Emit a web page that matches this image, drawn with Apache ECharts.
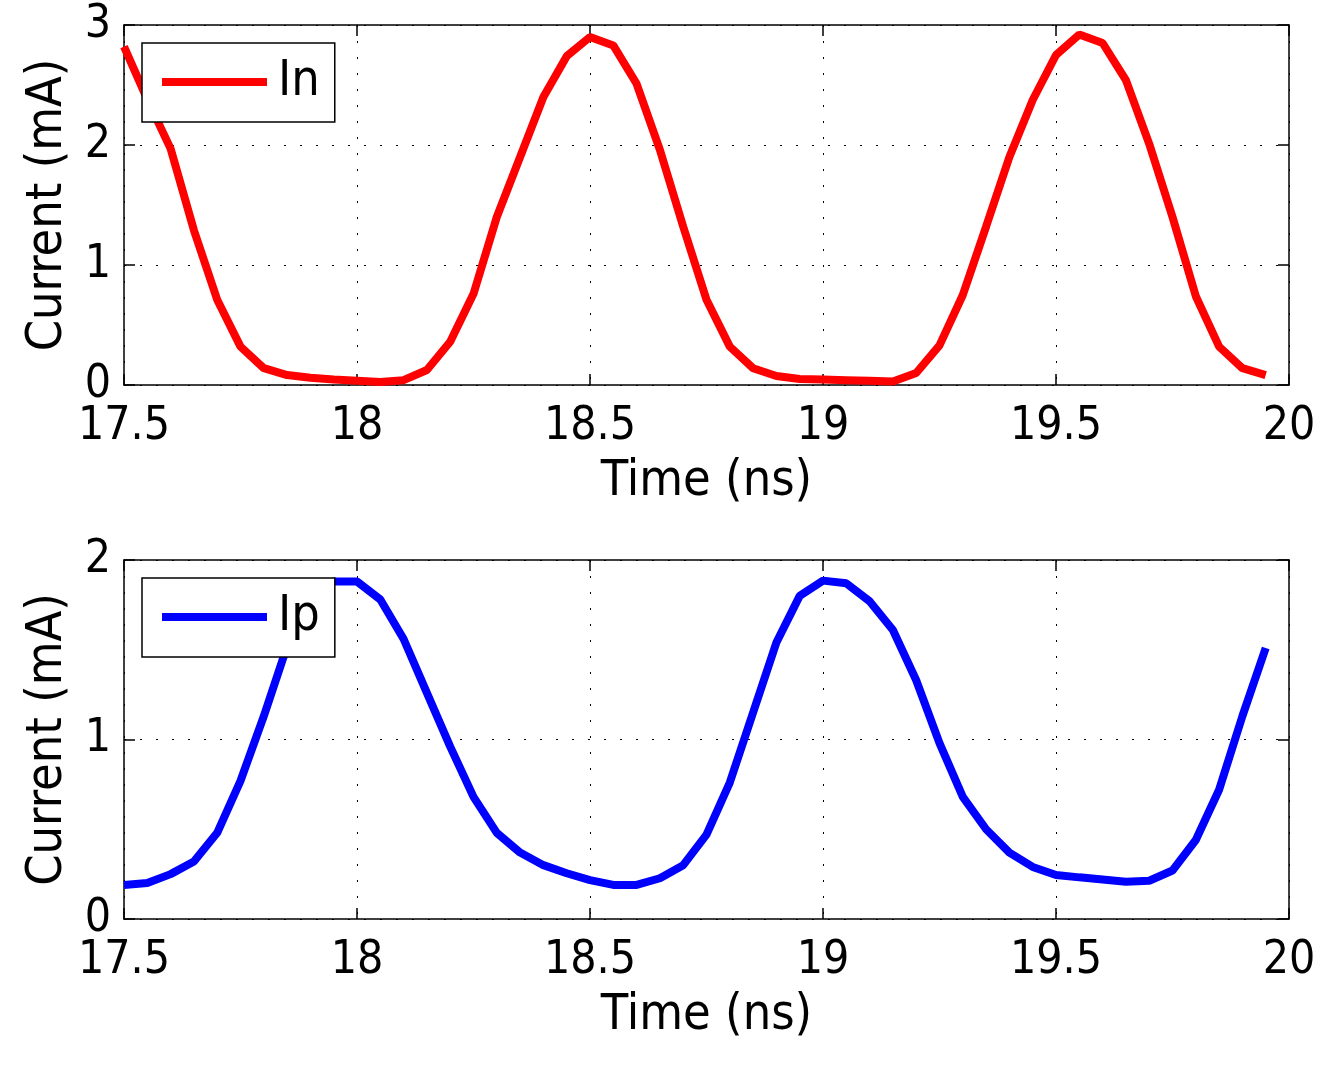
<!DOCTYPE html>
<html>
<head>
<meta charset="utf-8">
<script src="https://cdn.jsdelivr.net/npm/echarts@6/dist/echarts.min.js"></script>
<style>
  html, body { margin: 0; padding: 0; background: #fff; }
  #chart { width: 1323px; height: 1067px; }
</style>
</head>
<body>
<div id="chart"></div>
<script>
// time samples (ns)
const times = [17.5, 17.55, 17.6, 17.65, 17.7, 17.75, 17.8, 17.85, 17.9, 17.95,
  18, 18.05, 18.1, 18.15, 18.2, 18.25, 18.3, 18.35, 18.4, 18.45,
  18.5, 18.55, 18.6, 18.65, 18.7, 18.75, 18.8, 18.85, 18.9, 18.95,
  19, 19.05, 19.1, 19.15, 19.2, 19.25, 19.3, 19.35, 19.4, 19.45,
  19.5, 19.55, 19.6, 19.65, 19.7, 19.75, 19.8, 19.85, 19.9, 19.95];

// In current (mA)
const inValues = [2.82, 2.38, 1.97, 1.29, 0.71, 0.32, 0.14, 0.083, 0.06, 0.045,
  0.035, 0.025, 0.04, 0.125, 0.36, 0.76, 1.40, 1.90, 2.40, 2.74,
  2.90, 2.83, 2.51, 1.96, 1.32, 0.71, 0.32, 0.14, 0.075, 0.05,
  0.045, 0.04, 0.035, 0.03, 0.10, 0.33, 0.75, 1.32, 1.90, 2.375,
  2.75, 2.92, 2.85, 2.54, 2.01, 1.40, 0.74, 0.32, 0.14, 0.083];

// Ip current (mA)
const ipValues = [0.19, 0.20, 0.25, 0.32, 0.48, 0.77, 1.13, 1.52, 1.85, 1.88,
  1.88, 1.78, 1.56, 1.26, 0.96, 0.68, 0.48, 0.37, 0.30, 0.255,
  0.217, 0.19, 0.19, 0.227, 0.30, 0.47, 0.76, 1.15, 1.54, 1.80,
  1.885, 1.87, 1.77, 1.61, 1.33, 0.98, 0.68, 0.50, 0.37, 0.29,
  0.245, 0.232, 0.22, 0.208, 0.213, 0.27, 0.44, 0.72, 1.13, 1.51];

const xRange = { min: 17.5, max: 20, interval: 0.5 };
const yRangeTop = { min: 0, max: 3, interval: 1 };
const yRangeBottom = { min: 0, max: 2, interval: 1 };

const FONT = "'DejaVu Sans Condensed', 'DejaVu Sans', sans-serif";

const chart = echarts.init(document.getElementById('chart'), null, { renderer: 'canvas' });

// main axis (with labels, grid lines)
function mainX(gridIndex) {
  return {
    type: 'value', gridIndex: gridIndex, position: 'bottom',
    min: xRange.min, max: xRange.max, interval: xRange.interval,
    name: 'Time (ns)', nameLocation: 'middle', nameGap: 72,
    nameTextStyle: { fontFamily: FONT, fontSize: 50, color: '#000' },
    axisLine: { show: true, onZero: false, lineStyle: { color: '#000', width: 1.5 } },
    axisTick: { show: true, inside: true, length: 11, lineStyle: { color: '#000', width: 1.5 } },
    axisLabel: { fontFamily: FONT, fontSize: 46, color: '#000', margin: 19,
      showMinLabel: true, showMaxLabel: true },
    splitLine: { show: true, lineStyle: { color: '#000', width: 1, type: [2, 14] } }
  };
}
function mainY(gridIndex, r) {
  return {
    type: 'value', gridIndex: gridIndex, position: 'left',
    min: r.min, max: r.max, interval: r.interval,
    name: 'Current (mA)', nameLocation: 'middle', nameGap: 51,
    nameTextStyle: { fontFamily: FONT, fontSize: 50, color: '#000' },
    axisLine: { show: true, onZero: false, lineStyle: { color: '#000', width: 1.5 } },
    axisTick: { show: true, inside: true, length: 11, lineStyle: { color: '#000', width: 1.5 } },
    axisLabel: { fontFamily: FONT, fontSize: 46, color: '#000', margin: 13,
      showMinLabel: true, showMaxLabel: true },
    splitLine: { show: true, lineStyle: { color: '#000', width: 1, type: [2, 14] } }
  };
}
// mirror axes for the box (top / right), ticks only
function boxX(gridIndex) {
  return {
    type: 'value', gridIndex: gridIndex, position: 'top',
    min: xRange.min, max: xRange.max, interval: xRange.interval,
    axisLine: { show: true, onZero: false, lineStyle: { color: '#000', width: 1.5 } },
    axisTick: { show: true, inside: true, length: 11, lineStyle: { color: '#000', width: 1.5 } },
    axisLabel: { show: false },
    splitLine: { show: false }
  };
}
function boxY(gridIndex, r) {
  return {
    type: 'value', gridIndex: gridIndex, position: 'right',
    min: r.min, max: r.max, interval: r.interval,
    axisLine: { show: true, onZero: false, lineStyle: { color: '#000', width: 1.5 } },
    axisTick: { show: true, inside: true, length: 11, lineStyle: { color: '#000', width: 1.5 } },
    axisLabel: { show: false },
    splitLine: { show: false }
  };
}

function legendAt(top, name) {
  return {
    data: [name], left: 142, top: top, orient: 'horizontal',
    icon: 'rect', itemWidth: 105, itemHeight: 8,
    backgroundColor: '#fff', borderColor: '#000', borderWidth: 1.5, borderRadius: 0,
    padding: [14, 15, 15, 20],
    textStyle: { fontFamily: FONT, fontSize: 50, color: '#000', lineHeight: 44, padding: [0, 0, 0, 6] },
    selectedMode: false
  };
}

const option = {
  animation: false,
  backgroundColor: '#fff',
  grid: [
    { left: 124, top: 25, width: 1165, height: 360 },
    { left: 124, top: 560, width: 1165, height: 359 }
  ],
  xAxis: [mainX(0), boxX(0), mainX(1), boxX(1)],
  yAxis: [mainY(0, yRangeTop), boxY(0, yRangeTop), mainY(1, yRangeBottom), boxY(1, yRangeBottom)],
  legend: [legendAt(43, 'In'), legendAt(578, 'Ip')],
  series: [
    {
      name: 'In', type: 'line', xAxisIndex: 0, yAxisIndex: 0,
      data: times.map((t, i) => [t, inValues[i]]),
      symbol: 'none', smooth: false,
      lineStyle: { color: '#ff0000', width: 8 },
      itemStyle: { color: '#ff0000' }
    },
    {
      name: 'Ip', type: 'line', xAxisIndex: 2, yAxisIndex: 2,
      data: times.map((t, i) => [t, ipValues[i]]),
      symbol: 'none', smooth: false,
      lineStyle: { color: '#0000ff', width: 8 },
      itemStyle: { color: '#0000ff' }
    }
  ]
};

chart.setOption(option);
</script>
</body>
</html>
